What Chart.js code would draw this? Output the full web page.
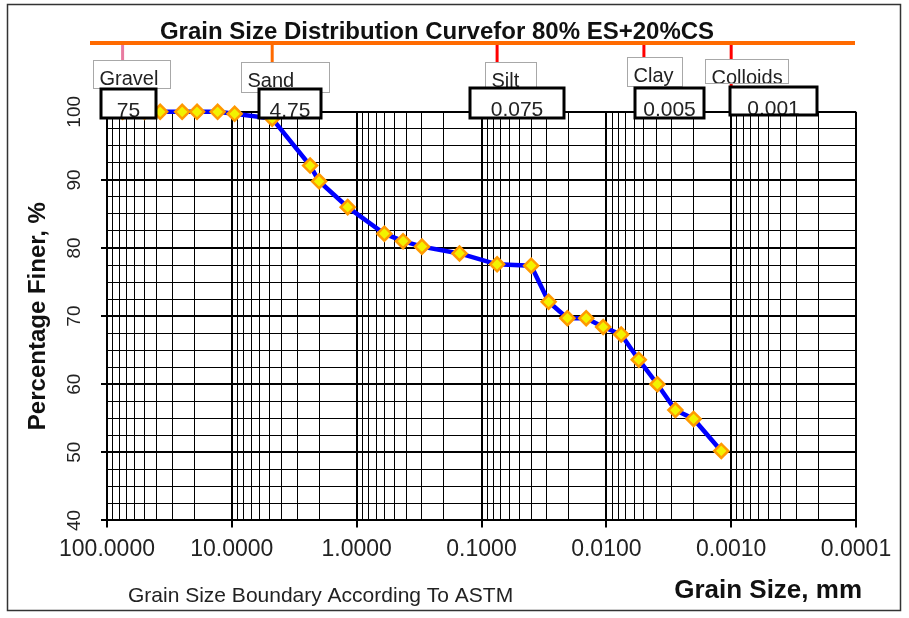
<!DOCTYPE html>
<html>
<head>
<meta charset="utf-8">
<script src="https://cdn.jsdelivr.net/npm/chart.js@4.4.1/dist/chart.umd.min.js"></script>
<style>
  html, body { margin: 0; padding: 0; background: #fff; }
  #wrap { width: 909px; height: 618px; }
</style>
</head>
<body>
<div id="wrap"><canvas id="graficoGranulometria" width="909" height="618"></canvas></div>
<script>
// sieve + hydrometer results: grain size (mm) and % finer
const grainSizes = [75, 50, 37.5, 25, 19, 13, 9.5, 4.75, 2.36, 2.0, 1.18, 0.6, 0.425, 0.3, 0.15, 0.075,
                    0.04, 0.029, 0.0205, 0.0145, 0.0106, 0.0076, 0.0055, 0.0039, 0.0028, 0.002, 0.0012];
const percentFiner = [100, 100, 100, 100, 100, 100, 99.7, 99.0, 92.1, 89.8, 86.0, 82.1, 81.0, 80.2, 79.2, 77.6,
                      77.4, 72.1, 69.7, 69.7, 68.4, 67.3, 63.6, 60.0, 56.2, 54.9, 50.2];

// ASTM boundaries shown above the plot
const boundaryNames = ['Gravel', 'Sand', 'Silt', 'Clay', 'Colloids'];
const boundaryValues = [75, 4.75, 0.075, 0.005, 0.001];
const boundaryLabels = ['75', '4.75', '0.075', '0.005', '0.001'];

// axis ticks
const xDecades = [100, 10, 1, 0.1, 0.01, 0.001, 0.0001];
const yTickLabels = [40, 50, 60, 70, 80, 90, 100];

const FONT = "'Liberation Sans', Arial, sans-serif";

function isDecade(v) {
    const l = Math.log10(v);
    return Math.abs(l - Math.round(l)) < 1e-9;
}

// log grid: 1..9 in every decade
const xGridValues = [];
xDecades.slice(1).forEach(d => {
    for (let k = 1; k <= 9; k++) xGridValues.push(Number((k * d).toPrecision(3)));
});
xGridValues.push(xDecades[0]);

const cornice = {
    id: 'cornice',
    beforeDraw(chart) {
        const ctx = chart.ctx;
        ctx.save();
        ctx.fillStyle = '#fff';
        ctx.fillRect(0, 0, chart.width, chart.height);
        ctx.strokeStyle = '#333';
        ctx.lineWidth = 1.5;
        ctx.strokeRect(7.5, 4.5, 893, 606);
        ctx.restore();
    },
    afterDraw(chart) {
        const ctx = chart.ctx;
        ctx.save();
        ctx.fillStyle = '#222';
        ctx.font = '21px ' + FONT;
        ctx.textAlign = 'left';
        ctx.textBaseline = 'middle';
        ctx.fillText('Grain Size Boundary According To ASTM', 128, 596);
        // x axis title, right-aligned under the last decade
        ctx.fillStyle = '#111';
        ctx.font = 'bold 26px ' + FONT;
        ctx.textAlign = 'right';
        ctx.fillText('Grain Size, mm', chart.chartArea.right + 6, 591);
        ctx.restore();
    }
};

const fasceAstm = {
    id: 'fasceAstm',
    afterDraw(chart) {
        const ctx = chart.ctx;
        const xs = chart.scales.x;
        const top = chart.chartArea.top;
        // [offset from boundary line, top, width, height]
        const nameBox = [[-30, 60, 77, 28], [-31, 62, 88, 30], [-12, 62, 51, 30], [-17, 57, 55, 29], [-26, 59, 83, 24]];
        const valueBox = [[-22, 89, 55, 29], [-13, 89, 62, 29], [-27, 88, 94, 30], [-9, 88, 69, 30], [-1, 87, 87, 28]];
        const dropColors = ['#E87BA0', '#FF6A00', '#FF0000', '#FF0000', '#FF0000'];

        ctx.save();
        boundaryValues.forEach((v, i) => {
            const px = xs.getPixelForValue(v);
            ctx.strokeStyle = dropColors[i];
            ctx.lineWidth = 3;
            ctx.beginPath();
            ctx.moveTo(px, 43);
            ctx.lineTo(px, top);
            ctx.stroke();
        });
        ctx.strokeStyle = '#FF6A00';
        ctx.lineWidth = 4;
        ctx.beginPath();
        ctx.moveTo(90, 43);
        ctx.lineTo(855, 43);
        ctx.stroke();

        boundaryNames.forEach((name, i) => {
            const px = xs.getPixelForValue(boundaryValues[i]);
            const [dx, y, w, h] = nameBox[i];
            const x = Math.round(px + dx) + 0.5;
            ctx.fillStyle = '#fff';
            ctx.fillRect(x, y, w, h);
            ctx.strokeStyle = '#A8A8A8';
            ctx.lineWidth = 1;
            ctx.strokeRect(x, y + 0.5, w, h);
            ctx.save();
            ctx.beginPath();
            ctx.rect(x, y, w, h);
            ctx.clip();
            ctx.fillStyle = '#222';
            ctx.font = '20px ' + FONT;
            ctx.textAlign = 'left';
            ctx.textBaseline = 'alphabetic';
            ctx.fillText(name, x + 6, y + 25);
            ctx.restore();
        });

        boundaryLabels.forEach((lab, i) => {
            const px = xs.getPixelForValue(boundaryValues[i]);
            const [dx, y, w, h] = valueBox[i];
            const x = Math.round(px + dx);
            ctx.fillStyle = '#fff';
            ctx.fillRect(x, y, w, h);
            ctx.save();
            ctx.beginPath();
            ctx.rect(x, y, w, h);
            ctx.clip();
            ctx.fillStyle = '#222';
            ctx.font = '21px ' + FONT;
            ctx.textAlign = 'center';
            ctx.textBaseline = 'alphabetic';
            ctx.fillText(lab, x + w / 2, y + 28);
            ctx.restore();
            ctx.strokeStyle = '#000';
            ctx.lineWidth = 3;
            ctx.strokeRect(x, y, w, h);
        });
        ctx.restore();
    }
};

Chart.defaults.color = '#222';
Chart.defaults.font.family = FONT;

const ctx = document.getElementById('graficoGranulometria').getContext('2d');

new Chart(ctx, {
    type: 'line',
    data: {
        datasets: [{
            label: '80% ES+20%CS',
            data: grainSizes.map((d, i) => ({ x: d, y: percentFiner[i] })),
            borderColor: '#0000FF',
            borderWidth: 4.5,
            backgroundColor: '#FFFF00',
            pointStyle: 'rectRot',
            pointRadius: 7,
            pointBorderColor: '#FF9900',
            pointBorderWidth: 2.5,
            pointBackgroundColor: '#F2F200',
            tension: 0,
            clip: false
        }]
    },
    options: {
        responsive: false,
        animation: false,
        devicePixelRatio: 1,
        layout: { padding: { top: 0, left: 18, right: 53, bottom: 47 } },
        plugins: {
            legend: { display: false },
            tooltip: { enabled: false },
            title: {
                display: true,
                text: 'Grain Size Distribution Curvefor 80% ES+20%CS',
                color: '#111',
                font: { size: 24, weight: 'bold' },
                padding: { top: 18, bottom: 65 }
            }
        },
        scales: {
            x: {
                type: 'logarithmic',
                reverse: true,
                min: 0.0001,
                max: 100,
                afterBuildTicks: s => { s.ticks = xGridValues.map(v => ({ value: v })); },
                ticks: {
                    autoSkip: false,
                    maxRotation: 0,
                    minRotation: 0,
                    padding: 8,
                    font: { size: 23 },
                    callback: v => (isDecade(v) && xDecades.includes(Number(v.toPrecision(3)))) ? Number(v).toFixed(4) : ''
                },
                grid: {
                    color: '#000',
                    lineWidth: c => (c.tick && isDecade(c.tick.value)) ? 2 : 1,
                    tickLength: 7,
                    tickColor: c => (c.tick && isDecade(c.tick.value)) ? '#000' : 'rgba(0,0,0,0)'
                },
                border: { display: true, color: '#000', width: 2 },
                title: { display: false }
            },
            y: {
                min: 40,
                max: 100,
                afterFit: s => { s.width = 89; },
                ticks: {
                    stepSize: 2.5,
                    autoSkip: false,
                    minRotation: 90,
                    maxRotation: 90,
                    crossAlign: 'center',
                    padding: 10,
                    font: { size: 19 },
                    callback: v => yTickLabels.includes(v) ? String(v) : ''
                },
                grid: {
                    color: '#000',
                    lineWidth: c => (c.tick && c.tick.value % 10 === 0) ? 2 : 1,
                    tickLength: 6,
                    tickColor: c => (c.tick && c.tick.value % 10 === 0) ? '#000' : 'rgba(0,0,0,0)'
                },
                border: { display: true, color: '#000', width: 2 },
                title: {
                    display: true,
                    text: 'Percentage Finer, %',
                    color: '#111',
                    font: { size: 24, weight: 'bold' },
                    padding: { top: 6, bottom: 0 }
                }
            }
        }
    },
    plugins: [cornice, fasceAstm]
});
</script>
</body>
</html>
